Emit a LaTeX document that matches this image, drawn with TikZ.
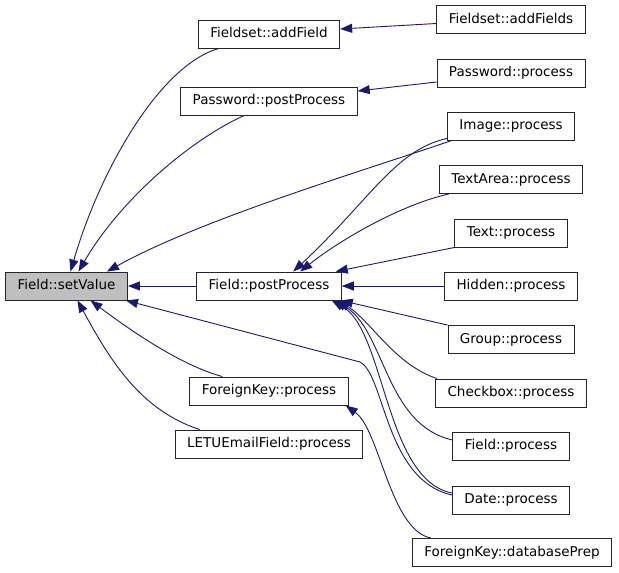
\documentclass[tikz,border=0pt]{standalone}
\usepackage{fontspec}
\setmainfont{DejaVu Sans}
\usetikzlibrary{arrows.meta}
\definecolor{edgeblue}{RGB}{25,25,112}
\tikzset{
  fn/.style   ={draw=black!85, line width=0.9pt, font=\fontsize{13.5}{16}\selectfont,
                minimum height=28pt, inner xsep=12pt, inner ysep=0pt,
                text height=10pt, text depth=3pt},
  cur/.style  ={fn, fill=black!25},
  call/.style ={-{Triangle[length=12pt, width=9pt]}, draw=edgeblue, line width=0.9pt},
}

\begin{document}
\begin{tikzpicture}[x=1pt, y=-1pt]
\useasboundingbox (0,0) rectangle (619,573);

% ---- functions ---------------------------------------------------------
\node[cur] (sv)     at (66.5,286) {Field::setValue};
\node[fn]  (addf)   at (269,34)   {Fieldset::addField};
\node[fn]  (ppost)  at (269,101)  {Password::postProcess};
\node[fn]  (fpost)  at (269,286)  {Field::postProcess};
\node[fn]  (fkproc) at (269,391)  {ForeignKey::process};
\node[fn]  (letu)   at (269,444)  {LETUEmailField::process};

\node[fn] (addfs)    at (511,19.5)  {Fieldset::addFields};
\node[fn] (pwproc)   at (511,73)    {Password::process};
\node[fn] (imgproc)  at (511,126)   {Image::process};
\node[fn] (taproc)   at (511,179.5) {TextArea::process};
\node[fn] (txtproc)  at (511,233)   {Text::process};
\node[fn] (hidproc)  at (511,286)   {Hidden::process};
\node[fn] (grpproc)  at (511,339.5) {Group::process};
\node[fn] (cbproc)   at (511,393)   {Checkbox::process};
\node[fn] (fproc)    at (511,446)   {Field::process};
\node[fn] (dateproc) at (511,500)   {Date::process};
\node[fn] (fkprep)   at (512,552.5) {ForeignKey::databasePrep};

% ---- callers of Field::setValue ---------------------------------------
\draw[call] ([xshift=21pt]addf.south west) .. controls (160,65) and (100,170) .. ([xshift=4pt]sv.north);
\draw[call] ([xshift=64pt]ppost.south west) .. controls (190,140) and (120,200) .. ([xshift=12pt]sv.north);
\draw[call] ([xshift=5pt]imgproc.south west) .. controls (350,175) and (200,220) .. ([xshift=-21pt]sv.north east);
\draw[call] (fpost.west) -- (sv.east);
\draw[call] ([yshift=5pt]dateproc.west) .. controls (385,480) and (385,375) .. (360,362) -- ([xshift=-2pt]sv.south east);
\draw[call] ([xshift=33pt]fkproc.north west) .. controls (180,365) and (130,330) .. ([xshift=24pt]sv.south);
\draw[call] ([xshift=25pt]letu.north west) .. controls (140,410) and (110,360) .. ([xshift=11pt]sv.south);

% ---- callers of Field::postProcess ------------------------------------
\draw[call] ([yshift=2pt]imgproc.south west) .. controls (395,150) and (370,200) .. ([xshift=97pt]fpost.north west);
\draw[call] ([xshift=10pt]taproc.south west) .. controls (400,205) and (340,240) .. ([xshift=104pt]fpost.north west);
\draw[call] (txtproc.south west) -- ([xshift=-6pt]fpost.north east);
\draw[call] (hidproc.west) -- (fpost.east);
\draw[call] (grpproc.north west) -- ([xshift=-1pt]fpost.south east);
\draw[call] ([xshift=2pt]cbproc.north west) .. controls (395,365) and (370,320) .. ([xshift=-4pt]fpost.south east);
\draw[call] ([yshift=6pt]fproc.west) .. controls (385,425) and (385,330) .. ([xshift=-7pt]fpost.south east);
\draw[call] ([yshift=7pt]dateproc.west) .. controls (385,480) and (385,330) .. ([xshift=-10pt]fpost.south east);

% ---- other calls -------------------------------------------------------
\draw[call] ([yshift=-4pt]addfs.west) -- ([yshift=5pt]addf.east);
\draw[call] ([yshift=-9pt]pwproc.west) -- ([yshift=10pt]ppost.east);
\draw[call] ([xshift=19pt]fkprep.north west) .. controls (390,530) and (380,430) .. ([xshift=-3pt]fkproc.south east);

\end{tikzpicture}
\end{document}
